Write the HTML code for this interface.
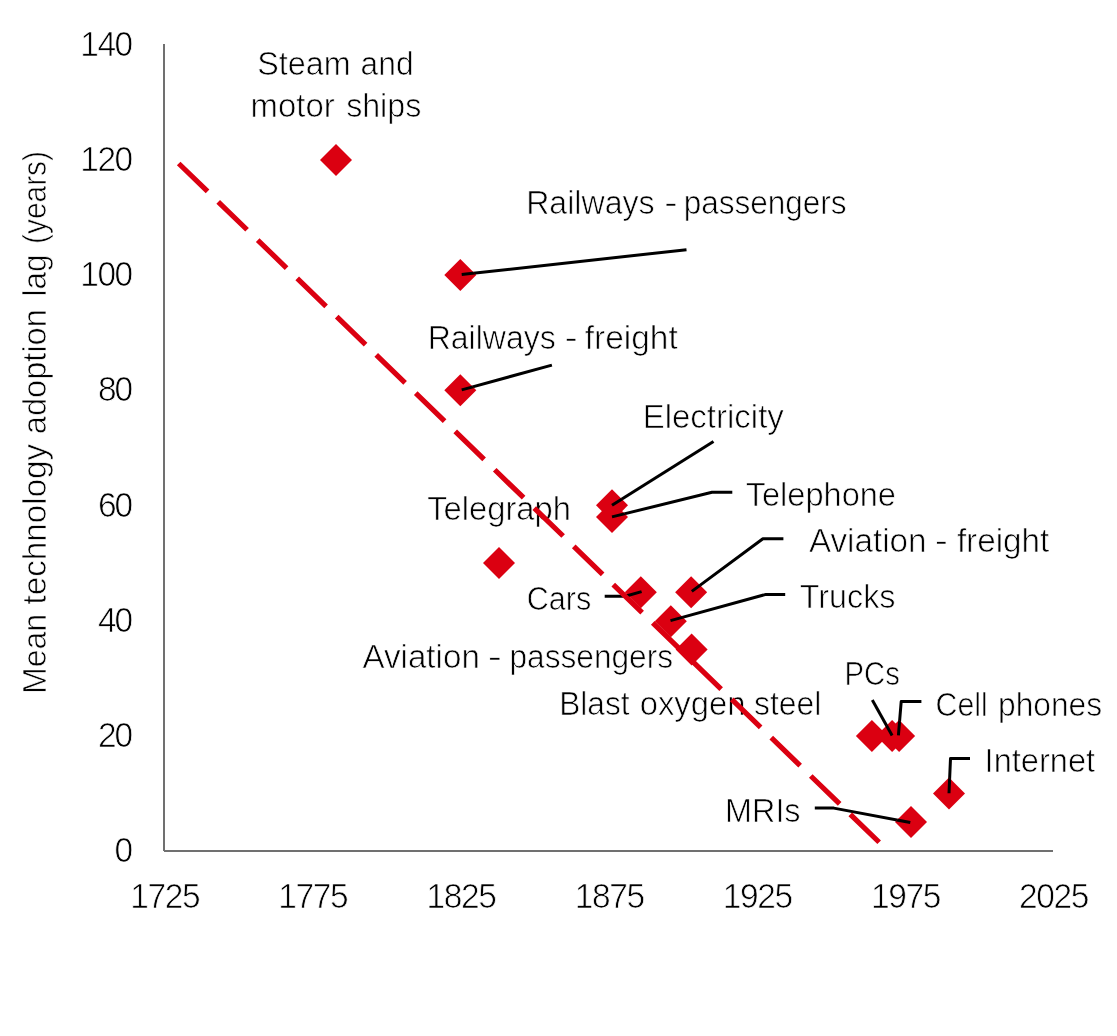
<!DOCTYPE html>
<html lang="en"><head><meta charset="utf-8"><title>Mean technology adoption lag</title>
<style>
html,body{margin:0;padding:0;background:#fff}
body{width:1117px;height:1036px;overflow:hidden}
svg{display:block}
text{font-family:"Liberation Sans",Arial,Helvetica,sans-serif;font-size:33.5px;fill:#000;stroke:#fff;stroke-width:0.70px;paint-order:fill stroke}
</style></head><body>
<svg width="1117" height="1036" viewBox="0 0 1117 1036">
<rect width="1117" height="1036" fill="#fff"/>
<g id="ticks">
<text transform="translate(133.10 862.40) scale(1 1.055)" text-anchor="end" textLength="17.6" lengthAdjust="spacing">0</text>
<text transform="translate(133.10 747.13) scale(1 1.055)" text-anchor="end" textLength="35.2" lengthAdjust="spacing">20</text>
<text transform="translate(133.10 631.86) scale(1 1.055)" text-anchor="end" textLength="35.2" lengthAdjust="spacing">40</text>
<text transform="translate(133.10 516.58) scale(1 1.055)" text-anchor="end" textLength="35.2" lengthAdjust="spacing">60</text>
<text transform="translate(133.10 401.31) scale(1 1.055)" text-anchor="end" textLength="35.2" lengthAdjust="spacing">80</text>
<text transform="translate(133.10 286.04) scale(1 1.055)" text-anchor="end" textLength="52.8" lengthAdjust="spacing">100</text>
<text transform="translate(133.10 170.77) scale(1 1.055)" text-anchor="end" textLength="52.8" lengthAdjust="spacing">120</text>
<text transform="translate(133.10 55.50) scale(1 1.055)" text-anchor="end" textLength="52.8" lengthAdjust="spacing">140</text>
<text transform="translate(200.55 908.40) scale(1 1.055)" text-anchor="end" textLength="70.4" lengthAdjust="spacing">1725</text>
<text transform="translate(348.71 908.40) scale(1 1.055)" text-anchor="end" textLength="70.4" lengthAdjust="spacing">1775</text>
<text transform="translate(496.87 908.40) scale(1 1.055)" text-anchor="end" textLength="70.4" lengthAdjust="spacing">1825</text>
<text transform="translate(645.03 908.40) scale(1 1.055)" text-anchor="end" textLength="70.4" lengthAdjust="spacing">1875</text>
<text transform="translate(793.19 908.40) scale(1 1.055)" text-anchor="end" textLength="70.4" lengthAdjust="spacing">1925</text>
<text transform="translate(941.35 908.40) scale(1 1.055)" text-anchor="end" textLength="70.4" lengthAdjust="spacing">1975</text>
<text transform="translate(1089.51 908.40) scale(1 1.055)" text-anchor="end" textLength="70.4" lengthAdjust="spacing">2025</text>
</g>
<text id="ytitle" transform="translate(45.5 691.0) rotate(-90)"><tspan x="-2.94" textLength="80.02" lengthAdjust="spacingAndGlyphs">Mean</tspan> <tspan x="86.52" textLength="160.68" lengthAdjust="spacingAndGlyphs">technology</tspan> <tspan x="256.86" textLength="125.00" lengthAdjust="spacingAndGlyphs">adoption</tspan> <tspan x="394.50" textLength="42.00" lengthAdjust="spacingAndGlyphs">lag</tspan> <tspan x="447.00" textLength="93.00" lengthAdjust="spacingAndGlyphs">(years)</tspan></text>
<g id="labels">
<text y="74.7"><tspan x="257.20" textLength="93.38" lengthAdjust="spacingAndGlyphs">Steam</tspan> <tspan x="360.58" textLength="53.00" lengthAdjust="spacingAndGlyphs">and</tspan></text>
<text y="116.7"><tspan x="250.56" textLength="84.14" lengthAdjust="spacingAndGlyphs">motor</tspan> <tspan x="346.14" textLength="75.14" lengthAdjust="spacingAndGlyphs">ships</tspan></text>
<text y="214.2"><tspan x="526.20" textLength="128.44" lengthAdjust="spacingAndGlyphs">Railways</tspan> <tspan x="664.28" textLength="13.38" lengthAdjust="spacingAndGlyphs">-</tspan> <tspan x="683.64" textLength="163.00" lengthAdjust="spacingAndGlyphs">passengers</tspan></text>
<text y="348.5"><tspan x="427.70" textLength="128.08" lengthAdjust="spacingAndGlyphs">Railways</tspan> <tspan x="564.56" textLength="13.16" lengthAdjust="spacingAndGlyphs">-</tspan> <tspan x="584.80" textLength="92.90" lengthAdjust="spacingAndGlyphs">freight</tspan></text>
<text y="427.5"><tspan x="642.70" textLength="141.14" lengthAdjust="spacingAndGlyphs">Electricity</tspan></text>
<text y="505.9"><tspan x="745.66" textLength="150.34" lengthAdjust="spacingAndGlyphs">Telephone</tspan></text>
<text y="519.7"><tspan x="427.16" textLength="143.84" lengthAdjust="spacingAndGlyphs">Telegraph</tspan></text>
<text y="552.4"><tspan x="808.94" textLength="117.56" lengthAdjust="spacingAndGlyphs">Aviation</tspan> <tspan x="934.84" textLength="13.02" lengthAdjust="spacingAndGlyphs">-</tspan> <tspan x="956.88" textLength="92.46" lengthAdjust="spacingAndGlyphs">freight</tspan></text>
<text y="609.9"><tspan x="526.72" textLength="64.42" lengthAdjust="spacingAndGlyphs">Cars</tspan></text>
<text y="608.1"><tspan x="799.80" textLength="95.70" lengthAdjust="spacingAndGlyphs">Trucks</tspan></text>
<text y="668.0"><tspan x="362.44" textLength="117.42" lengthAdjust="spacingAndGlyphs">Aviation</tspan> <tspan x="487.84" textLength="14.10" lengthAdjust="spacingAndGlyphs">-</tspan> <tspan x="509.50" textLength="163.50" lengthAdjust="spacingAndGlyphs">passengers</tspan></text>
<text y="715.4"><tspan x="559.20" textLength="70.42" lengthAdjust="spacingAndGlyphs">Blast</tspan> <tspan x="639.72" textLength="105.78" lengthAdjust="spacingAndGlyphs">oxygen</tspan> <tspan x="754.00" textLength="67.22" lengthAdjust="spacingAndGlyphs">steel</tspan></text>
<text y="685.0"><tspan x="844.56" textLength="55.22" lengthAdjust="spacingAndGlyphs">PCs</tspan></text>
<text y="715.6"><tspan x="935.58" textLength="52.14" lengthAdjust="spacingAndGlyphs">Cell</tspan> <tspan x="998.00" textLength="104.06" lengthAdjust="spacingAndGlyphs">phones</tspan></text>
<text y="772.4"><tspan x="984.62" textLength="110.50" lengthAdjust="spacingAndGlyphs">Internet</tspan></text>
<text y="822.0"><tspan x="725.06" textLength="75.50" lengthAdjust="spacingAndGlyphs">MRIs</tspan></text>
</g>
<g id="gfx">
<path d="M164 44V851" stroke="#707070" stroke-width="2" fill="none"/>
<path d="M164 850.9H1053" stroke="#707070" stroke-width="2" fill="none"/>
<defs><clipPath id="mk"><path d="M336.0 144.0L352.0 160.0L336.0 176.0L320.0 160.0ZM460.3 259.0L476.3 275.0L460.3 291.0L444.3 275.0ZM460.3 374.2L476.3 390.2L460.3 406.2L444.3 390.2ZM499.0 547.1L515.0 563.1L499.0 579.1L483.0 563.1ZM612.0 489.3L628.0 505.3L612.0 521.3L596.0 505.3ZM612.0 501.0L628.0 517.0L612.0 533.0L596.0 517.0ZM640.8 576.2L656.8 592.2L640.8 608.2L624.8 592.2ZM691.1 576.2L707.1 592.2L691.1 608.2L675.1 592.2ZM670.8 605.3L686.8 621.3L670.8 637.3L654.8 621.3ZM691.6 633.5L707.6 649.5L691.6 665.5L675.6 649.5ZM871.9 720.1L887.9 736.1L871.9 752.1L855.9 736.1ZM892.1 720.1L908.1 736.1L892.1 752.1L876.1 736.1ZM899.1 720.1L915.1 736.1L899.1 752.1L883.1 736.1ZM911.0 806.0L927.0 822.0L911.0 838.0L895.0 822.0ZM949.0 777.5L965.0 793.5L949.0 809.5L933.0 793.5Z"/></clipPath></defs>
<g>
<path d="M461.7 274.5L686.5 249.7" stroke="#000" stroke-width="3" fill="none" stroke-linejoin="round"/>
<path d="M461.7 389.9L551.9 365.1" stroke="#000" stroke-width="3" fill="none" stroke-linejoin="round"/>
<path d="M612.0 505.3L713.5 441.5" stroke="#000" stroke-width="3" fill="none" stroke-linejoin="round"/>
<path d="M612.0 516.9L712.0 492.3L732.3 492.3" stroke="#000" stroke-width="3" fill="none" stroke-linejoin="round"/>
<path d="M691.8 591.4L762.9 538.7L783.4 538.7" stroke="#000" stroke-width="3" fill="none" stroke-linejoin="round"/>
<path d="M670.5 620.6L765.9 594.4L785.2 594.4" stroke="#000" stroke-width="3" fill="none" stroke-linejoin="round"/>
<path d="M641.6 591.6L625.3 596.2L604.7 596.2" stroke="#000" stroke-width="3" fill="none" stroke-linejoin="round"/>
<path d="M892.1 735.4L872.3 700.1" stroke="#000" stroke-width="3" fill="none" stroke-linejoin="round"/>
<path d="M898.4 735.4L901.2 701.6L921.4 701.6" stroke="#000" stroke-width="3" fill="none" stroke-linejoin="round"/>
<path d="M949.0 793.2L950.5 758.6L970.0 758.6" stroke="#000" stroke-width="3" fill="none" stroke-linejoin="round"/>
<path d="M910.3 822.5L833.8 808.1L814.8 808.1" stroke="#000" stroke-width="3" fill="none" stroke-linejoin="round"/>
</g>
<path d="M178.7 163.5L879.2 842.3" stroke="#db0011" stroke-width="5.2" stroke-dasharray="40.2 14.81" fill="none"/>
<path d="M336.0 144.0L352.0 160.0L336.0 176.0L320.0 160.0Z" fill="#db0011"/>
<path d="M460.3 259.0L476.3 275.0L460.3 291.0L444.3 275.0Z" fill="#db0011"/>
<path d="M460.3 374.2L476.3 390.2L460.3 406.2L444.3 390.2Z" fill="#db0011"/>
<path d="M499.0 547.1L515.0 563.1L499.0 579.1L483.0 563.1Z" fill="#db0011"/>
<path d="M612.0 489.3L628.0 505.3L612.0 521.3L596.0 505.3Z" fill="#db0011"/>
<path d="M612.0 501.0L628.0 517.0L612.0 533.0L596.0 517.0Z" fill="#db0011"/>
<path d="M640.8 576.2L656.8 592.2L640.8 608.2L624.8 592.2Z" fill="#db0011"/>
<path d="M691.1 576.2L707.1 592.2L691.1 608.2L675.1 592.2Z" fill="#db0011"/>
<path d="M670.8 605.3L686.8 621.3L670.8 637.3L654.8 621.3Z" fill="#db0011"/>
<path d="M691.6 633.5L707.6 649.5L691.6 665.5L675.6 649.5Z" fill="#db0011"/>
<path d="M871.9 720.1L887.9 736.1L871.9 752.1L855.9 736.1Z" fill="#db0011"/>
<path d="M892.1 720.1L908.1 736.1L892.1 752.1L876.1 736.1Z" fill="#db0011"/>
<path d="M899.1 720.1L915.1 736.1L899.1 752.1L883.1 736.1Z" fill="#db0011"/>
<path d="M911.0 806.0L927.0 822.0L911.0 838.0L895.0 822.0Z" fill="#db0011"/>
<path d="M949.0 777.5L965.0 793.5L949.0 809.5L933.0 793.5Z" fill="#db0011"/>
<g clip-path="url(#mk)">
<path d="M461.7 274.5L686.5 249.7" stroke="#000" stroke-width="3" fill="none" stroke-linejoin="round"/>
<path d="M461.7 389.9L551.9 365.1" stroke="#000" stroke-width="3" fill="none" stroke-linejoin="round"/>
<path d="M612.0 505.3L713.5 441.5" stroke="#000" stroke-width="3" fill="none" stroke-linejoin="round"/>
<path d="M612.0 516.9L712.0 492.3L732.3 492.3" stroke="#000" stroke-width="3" fill="none" stroke-linejoin="round"/>
<path d="M691.8 591.4L762.9 538.7L783.4 538.7" stroke="#000" stroke-width="3" fill="none" stroke-linejoin="round"/>
<path d="M670.5 620.6L765.9 594.4L785.2 594.4" stroke="#000" stroke-width="3" fill="none" stroke-linejoin="round"/>
<path d="M641.6 591.6L625.3 596.2L604.7 596.2" stroke="#000" stroke-width="3" fill="none" stroke-linejoin="round"/>
<path d="M892.1 735.4L872.3 700.1" stroke="#000" stroke-width="3" fill="none" stroke-linejoin="round"/>
<path d="M898.4 735.4L901.2 701.6L921.4 701.6" stroke="#000" stroke-width="3" fill="none" stroke-linejoin="round"/>
<path d="M949.0 793.2L950.5 758.6L970.0 758.6" stroke="#000" stroke-width="3" fill="none" stroke-linejoin="round"/>
<path d="M910.3 822.5L833.8 808.1L814.8 808.1" stroke="#000" stroke-width="3" fill="none" stroke-linejoin="round"/>
</g>
</g>
</svg></body></html>
